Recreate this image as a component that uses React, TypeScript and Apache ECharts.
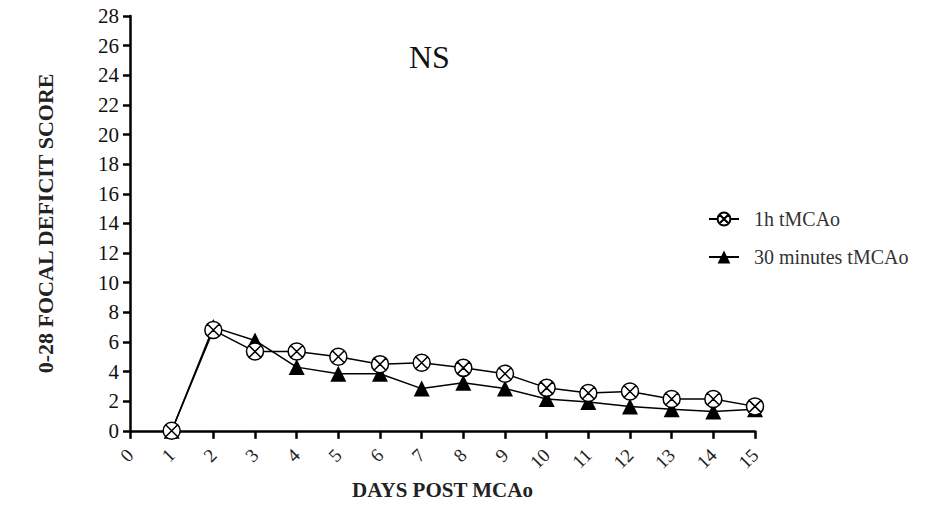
import React, { useEffect, useRef } from "react";
import * as echarts from "echarts";

const days = [1, 2, 3, 4, 5, 6, 7, 8, 9, 10, 11, 12, 13, 14, 15];
const oneHour = [0, 6.8, 5.35, 5.35, 5.0, 4.5, 4.6, 4.25, 3.85, 2.9, 2.55, 2.65, 2.15, 2.15, 1.65];
const thirtyMin = [0, 7.0, 6.1, 4.3, 3.85, 3.85, 2.85, 3.25, 2.85, 2.15, 1.95, 1.65, 1.45, 1.3, 1.45];
const seriesNames = ["1h tMCAo", "30 minutes tMCAo"];
const titleText = "NS";
const xName = "DAYS POST MCAo";
const yName = "0-28 FOCAL DEFICIT SCORE";

const crossCircle =
  "path://M1,10 A9,9 0 1,1 19,10 A9,9 0 1,1 1,10 Z M3.64,3.64 L16.36,16.36 M16.36,3.64 L3.64,16.36";

const serif = "Liberation Serif";

export default function App() {
  const ref = useRef<HTMLDivElement>(null);
  useEffect(() => {
    if (!ref.current) return;
    const chart = echarts.init(ref.current, undefined, { renderer: "svg" });
    const pairs = (vals: number[]) => days.map((d, i) => [d, vals[i]]);
    chart.setOption({
      animation: false,
      backgroundColor: "#ffffff",
      title: {
        text: titleText,
        left: 404,
        top: 36,
        textStyle: { fontFamily: serif, fontSize: 32, fontWeight: "normal", color: "#111" },
      },
      legend: {
        orient: "vertical",
        left: 703,
        top: 204,
        itemWidth: 30,
        itemHeight: 16,
        itemGap: 18,
        textStyle: { fontFamily: serif, fontSize: 20, color: "#333", padding: [0, 0, 0, 10] },
        data: [seriesNames[0], seriesNames[1]],
      },
      grid: { left: 130, right: 172, top: 16, bottom: 61, containLabel: false },
      xAxis: {
        type: "value",
        min: 0,
        max: 15,
        interval: 1,
        name: xName,
        nameLocation: "middle",
        nameGap: 46,
        nameTextStyle: { fontFamily: serif, fontSize: 21, fontWeight: "bold", color: "#222" },
        axisLine: { lineStyle: { color: "#000", width: 2.5 } },
        axisTick: { length: 8, lineStyle: { color: "#000", width: 2.5 } },
        axisLabel: { rotate: 45, fontFamily: serif, fontSize: 19, color: "#222", margin: 21 },
        splitLine: { show: false },
      },
      yAxis: {
        type: "value",
        min: 0,
        max: 28,
        interval: 2,
        name: yName,
        nameLocation: "middle",
        nameGap: 74,
        nameTextStyle: { fontFamily: serif, fontSize: 22, fontWeight: "bold", color: "#222" },
        axisLine: { show: true, lineStyle: { color: "#000", width: 2.5 } },
        axisTick: { show: true, length: 7, lineStyle: { color: "#000", width: 2.5 } },
        axisLabel: { fontFamily: serif, fontSize: 21, color: "#111", margin: 11 },
        splitLine: { show: false },
      },
      series: [
        {
          name: seriesNames[1],
          type: "line",
          data: pairs(thirtyMin),
          symbol: "triangle",
          symbolSize: 16,
          lineStyle: { color: "#000", width: 1.5 },
          itemStyle: { color: "#000" },
          z: 2,
        },
        {
          name: seriesNames[0],
          type: "line",
          data: pairs(oneHour),
          symbol: crossCircle,
          symbolSize: 17,
          lineStyle: { color: "#000", width: 1.5 },
          itemStyle: { color: "#fff", borderColor: "#000", borderWidth: 1.5 },
          z: 3,
        },
      ],
    });
    return () => chart.dispose();
  }, []);
  return (
    <div
      ref={ref}
      style={{ position: "fixed", left: 0, top: 0, width: 927, height: 505, background: "#fff" }}
    />
  );
}
